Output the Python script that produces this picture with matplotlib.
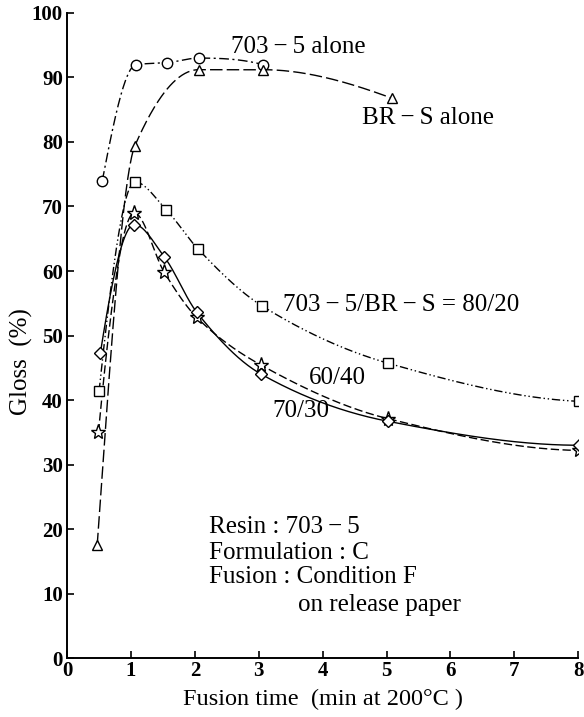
import numpy as np
import matplotlib
matplotlib.use("Agg")
import matplotlib.pyplot as plt

# ---- data ----
t_alone_703 = [0.55, 1.08, 1.57, 2.06, 3.06]
g_alone_703 = [74.0, 92.0, 92.3, 93.0, 92.0]

t_alone_brs = [0.47, 1.06, 2.06, 3.06, 5.08]
g_alone_brs = [17.5, 79.4, 91.2, 91.2, 86.8]

t_80_20 = [0.50, 1.06, 1.55, 2.05, 3.05, 5.03, 8.02]
g_80_20 = [41.4, 73.8, 69.5, 63.4, 54.6, 45.7, 39.8]

t_60_40 = [0.49, 1.05, 1.52, 2.03, 3.04, 5.03, 8.02]
g_60_40 = [35.0, 69.0, 59.8, 52.8, 45.4, 37.1, 32.2]

t_70_30 = [0.52, 1.05, 1.52, 2.03, 3.04, 5.03, 8.02]
g_70_30 = [47.3, 67.2, 62.2, 53.6, 44.0, 36.7, 33.0]

x_ticks = [0, 1, 2, 3, 4, 5, 6, 7, 8]
y_ticks = [0, 10, 20, 30, 40, 50, 60, 70, 80, 90, 100]


def pchip(x, y, n=300):
    """Monotone cubic curve through the points, only used to draw the line."""
    x = np.asarray(x, float)
    y = np.asarray(y, float)
    h = np.diff(x)
    delta = np.diff(y) / h
    d = np.zeros_like(x)
    for k in range(1, len(x) - 1):
        if delta[k - 1] * delta[k] > 0:
            w1 = 2 * h[k] + h[k - 1]
            w2 = h[k] + 2 * h[k - 1]
            d[k] = (w1 + w2) / (w1 / delta[k - 1] + w2 / delta[k])
    d0 = ((2 * h[0] + h[1]) * delta[0] - h[0] * delta[1]) / (h[0] + h[1])
    if np.sign(d0) != np.sign(delta[0]):
        d0 = 0
    d[0] = d0
    dn = ((2 * h[-1] + h[-2]) * delta[-1] - h[-1] * delta[-2]) / (h[-1] + h[-2])
    if np.sign(dn) != np.sign(delta[-1]):
        dn = 0
    d[-1] = dn
    xs = np.linspace(x[0], x[-1], n)
    idx = np.clip(np.searchsorted(x, xs) - 1, 0, len(x) - 2)
    s = (xs - x[idx]) / h[idx]
    h00 = 2 * s**3 - 3 * s**2 + 1
    h10 = s**3 - 2 * s**2 + s
    h01 = -2 * s**3 + 3 * s**2
    h11 = s**3 - s**2
    ys = h00 * y[idx] + h10 * h[idx] * d[idx] + h01 * y[idx + 1] + h11 * h[idx] * d[idx + 1]
    return xs, ys


plt.rcParams['font.family'] = ['Liberation Serif', 'DejaVu Serif']
plt.rcParams['font.size'] = 18

fig = plt.figure(figsize=(5.84, 7.17), dpi=100)
ax = fig.add_axes([0.115, 0.082, 0.875, 0.900])

series = [
    (t_alone_703, g_alone_703, 'o', (0, (7, 2.5, 1.5, 2.5))),
    (t_alone_brs, g_alone_brs, '^', (0, (9, 3))),
    (t_80_20, g_80_20, 's', (0, (6, 2, 1, 2, 1, 2))),
    (t_60_40, g_60_40, '*', (0, (6, 2.5))),
    (t_70_30, g_70_30, 'D', '-'),
]
msize = {'o': 7.5, '^': 7.5, 's': 7.0, '*': 11, 'D': 6.0}

for tx, gy, mk, ls in series:
    xs, ys = pchip(tx, gy)
    ax.plot(xs, ys, color='black', lw=1.0, ls=ls, zorder=2)
    ax.plot(tx, gy, ls='none', marker=mk, ms=msize[mk], mfc='white',
            mec='black', mew=1.0, zorder=3)

ax.set_xlim(0, 8)
ax.set_ylim(0, 100)
ax.set_xticks(x_ticks)
ax.set_yticks(y_ticks)
ax.tick_params(direction='in', length=5, width=1.2, labelsize=15, pad=3)
ax.tick_params(axis='x', pad=2)
for lbl in ax.get_xticklabels() + ax.get_yticklabels():
    lbl.set_fontweight('bold')
for side in ('top', 'right'):
    ax.spines[side].set_visible(False)
for side in ('left', 'bottom'):
    ax.spines[side].set_linewidth(1.4)

ax.set_ylabel('Gloss  (%)', fontsize=18)
ax.yaxis.set_label_coords(-0.066, 0.46)
ax.set_xlabel('Fusion time  (min at 200\u00b0C )', fontsize=17.5, labelpad=6)

dash = '\u2009\u2212\u2009'
ax.text(2.56, 94.7, '703' + dash + '5 alone', va='center')
ax.text(4.62, 83.7, 'BR' + dash + 'S alone', va='center')
ax.text(3.38, 54.7, '703' + dash + '5/BR' + dash + 'S = 80/20', va='center')
ax.text(3.78, 43.4, '60/40', va='center')
ax.text(3.22, 38.3, '70/30', va='center')

ax.text(2.22, 20.3, 'Resin : 703' + dash + '5', va='center')
ax.text(2.22, 16.3, 'Formulation : C', va='center')
ax.text(2.22, 12.6, 'Fusion : Condition F', va='center')
ax.text(3.62, 8.2, 'on release paper', va='center')

fig.savefig('out.png', dpi=100)
